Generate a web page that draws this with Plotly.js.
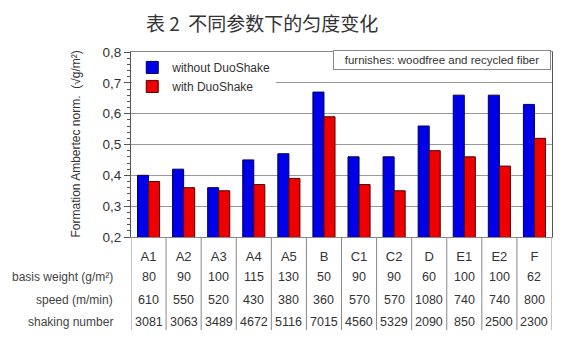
<!DOCTYPE html>
<html>
<head>
<meta charset="utf-8">
<script src="https://cdn.plot.ly/plotly-3.0.1.min.js"></script>
<style>html,body{margin:0;padding:0;background:#fff;}#chart{width:570px;height:352px;}</style>
</head>
<body>
<div id="chart"></div>
<script>
const categories = ["A1","A2","A3","A4","A5","B","C1","C2","D","E1","E2","F"];
const withoutDuoShake = [0.40,0.42,0.36,0.45,0.47,0.67,0.46,0.46,0.56,0.66,0.66,0.63];
const withDuoShake = [0.38,0.36,0.35,0.37,0.39,0.59,0.37,0.35,0.48,0.46,0.43,0.52];
const basisWeight = ["80","90","100","115","130","50","90","90","60","100","100","62"];
const speed = ["610","550","520","430","380","360","570","570","1080","740","740","800"];
const shakingNumber = ["3081","3063","3489","4672","5116","7015","4560","5329","2090","850","2500","2300"];
const rowLabels = ["basis weight (g/m²)","speed (m/min)","shaking number"];
const rows = [basisWeight, speed, shakingNumber];
const rowY = [-0.216, -0.34, -0.46];

const traces = [
  {type:'bar', name:'without DuoShake', x:categories, y:withoutDuoShake,
   marker:{color:'#0000e8', line:{color:'#000055', width:1}}},
  {type:'bar', name:'with DuoShake', x:categories, y:withDuoShake,
   marker:{color:'#ee0000', line:{color:'#550000', width:1}}}
];

const annotations = [];
rows.forEach((r, ri) => {
  annotations.push({xref:'paper', yref:'paper', x:-0.038, y:rowY[ri], xanchor:'right', yanchor:'middle',
    text:rowLabels[ri], showarrow:false, font:{size:12, color:'#444'}});
  r.forEach((v, i) => {
    annotations.push({xref:'x', yref:'paper', x:categories[i], y:rowY[ri], xanchor:'center', yanchor:'middle',
      text:v, showarrow:false, font:{size:12.5, color:'#333'}});
  });
});
annotations.push({xref:'paper', yref:'paper', x:0.48, y:1.01, xanchor:'left', yanchor:'top',
  text:'furnishes: woodfree and recycled fiber', showarrow:false,
  font:{size:11.5, color:'#333'}, bordercolor:'#888', borderwidth:1, borderpad:3, bgcolor:'#fff', width:210, align:'center'});
annotations.push({xref:'paper', yref:'paper', x:-0.133, y:0.5, xanchor:'center', yanchor:'middle', textangle:-90,
  text:'Formation Ambertec norm.  (√g/m²)', showarrow:false, font:{size:12, color:'#333'}});

const shapes = [];
for (let i = 0; i <= categories.length; i++) {
  shapes.push({type:'line', xref:'x', yref:'paper', x0:i-0.5, x1:i-0.5, y0:0, y1:-0.503,
    line:{color:'#888', width:1}});
}

const layout = {
  width:570, height:352,
  margin:{l:131, r:18, t:52, b:115},
  paper_bgcolor:'#fff', plot_bgcolor:'#fff',
  separators:', ',
  font:{family:'Arial, "Liberation Sans", sans-serif', color:'#333'},
  title:{text:'表 2  不同参数下的匀度变化', x:0.46, xanchor:'center', y:0.93, yanchor:'middle',
    font:{family:'"Noto Sans CJK SC", sans-serif', size:19, color:'#333'}},
  barmode:'group', bargap:0.37, bargroupgap:0,
  showlegend:true,
  legend:{x:0.003, y:0.995, xanchor:'left', yanchor:'top', bgcolor:'#fff', borderwidth:0,
    font:{size:12, color:'#333'}, itemwidth:30, tracegroupgap:0},
  xaxis:{type:'category', range:[-0.5, 11.5], showgrid:false, ticks:'', showline:true, linecolor:'#888', mirror:true,
    tickfont:{size:13, color:'#333'}, ticklabelstandoff:7},
  yaxis:{range:[0.2, 0.8], dtick:0.1, tickformat:'.1f', showgrid:true, gridcolor:'#999', gridwidth:1,
    showline:true, linecolor:'#555', mirror:true, ticks:'outside', ticklen:6, tickcolor:'#555',
    minor:{dtick:0.02, ticks:'outside', ticklen:3, tickcolor:'#555', showgrid:false},
    tickfont:{size:13.5, color:'#333'}, zeroline:false},
  annotations:annotations, shapes:shapes
};
Plotly.newPlot('chart', traces, layout, {displayModeBar:false, staticPlot:true});
</script>
</body>
</html>
